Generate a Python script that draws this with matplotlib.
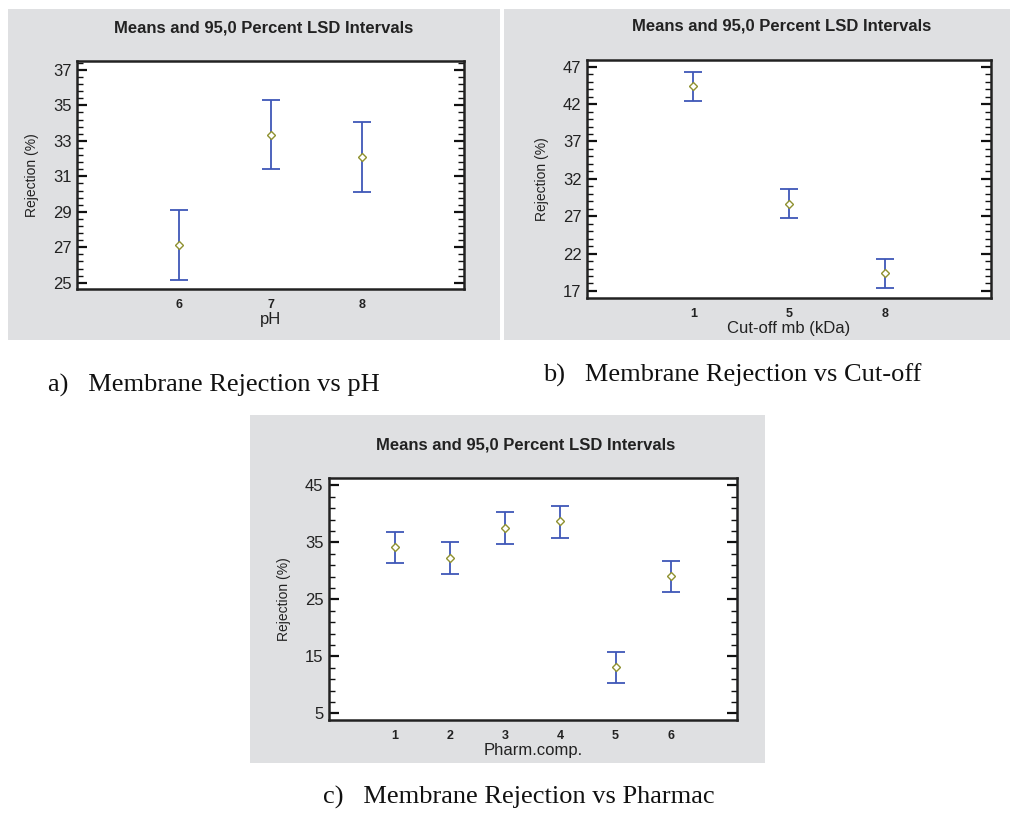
import numpy as np
import matplotlib.pyplot as plt
from matplotlib.patches import Rectangle
from matplotlib.ticker import AutoMinorLocator

# group labels, means and LSD interval limits for each factor
ph_levels = ['6', '7', '8']
ph_means = [27.13, 33.35, 32.09]
ph_low = [25.16, 31.40, 30.12]
ph_high = [29.09, 35.33, 34.07]

cut_levels = ['1', '5', '8']
cut_means = [44.46, 28.63, 19.45]
cut_low = [42.45, 26.71, 17.44]
cut_high = [46.33, 30.64, 21.32]

comp_levels = ['1', '2', '3', '4', '5', '6']
comp_means = [34.15, 32.21, 37.55, 38.67, 13.09, 29.11]
comp_low = [31.45, 29.46, 34.68, 35.79, 10.40, 26.23]
comp_high = [36.85, 35.03, 40.25, 41.36, 15.79, 31.80]

W, H = 1010, 823
BG = '#dfe0e2'
BLUE = '#3f57b8'
TITLE = 'Means and 95,0 Percent LSD Intervals'

plt.rcParams['font.family'] = ['Liberation Sans', 'DejaVu Sans']

fig = plt.figure(figsize=(W / 100, H / 100), dpi=100)
fig.patch.set_facecolor('white')


def px_rect(x0, y0, x1, y1):
    return [x0 / W, 1 - y1 / H, (x1 - x0) / W, (y1 - y0) / H]


def panel(box, axbox, levels, means, low, high, ylim, xlim, yticks, xlabel, title_y):
    gx0, gy0, gx1, gy1 = box
    fig.patches.append(Rectangle((gx0 / W, 1 - gy1 / H), (gx1 - gx0) / W, (gy1 - gy0) / H,
                                 transform=fig.transFigure, facecolor=BG, edgecolor='none',
                                 zorder=-10))
    ax = fig.add_axes(px_rect(*axbox))
    ax.set_facecolor('white')
    pos = list(range(len(levels)))
    err = [[m - l for m, l in zip(means, low)], [h - m for m, h in zip(means, high)]]
    ax.errorbar(pos, means, yerr=err, fmt='none', ecolor=BLUE, elinewidth=1.3,
                capsize=6.8, capthick=1.3)
    ax.plot(pos, means, linestyle='none', marker='D', markersize=4.2,
            markerfacecolor='white', markeredgecolor='#8f9130', markeredgewidth=1.0, zorder=3)
    ax.set_xlim(*xlim)
    ax.set_ylim(*ylim)
    ax.set_xticks(pos)
    ax.set_xticklabels(levels, fontweight='bold', fontsize=9, color='#222222')
    ax.tick_params(axis='x', length=0, pad=7)
    ax.set_yticks(yticks)
    ax.yaxis.set_minor_locator(AutoMinorLocator(5))
    ax.tick_params(axis='y', which='both', direction='in', left=True, right=True,
                   labelsize=12, color='#111111', pad=4, labelcolor='#222222')
    ax.tick_params(axis='y', which='major', length=7, width=1.6)
    ax.tick_params(axis='y', which='minor', length=4, width=1.0)
    for s in ax.spines.values():
        s.set_linewidth(1.8)
        s.set_color('#222222')
    ax.set_xlabel(xlabel, fontsize=12, labelpad=1, color='#222222')
    ax.set_ylabel('Rejection (%)', fontsize=10, labelpad=10, color='#222222')
    ax0, ay0, ax1, ay1 = axbox
    fig.text(((ax0 + ax1) / 2 - 7) / W, 1 - title_y / H, TITLE, ha='center', va='center',
             fontsize=12, fontweight='bold', color='#222222')
    return ax


panel((8, 9, 500, 340), (77, 61, 464, 289), ph_levels, ph_means, ph_low, ph_high,
      (24.65, 37.5), (-1.11, 3.11), np.arange(25, 38, 2), 'pH', 28)
panel((504, 9, 1010, 340), (587, 60, 991, 298), cut_levels, cut_means, cut_low, cut_high,
      (16.06, 47.9), (-1.11, 3.11), np.arange(17, 48, 5), 'Cut-off mb (kDa)', 26)
panel((250, 415, 765, 763), (329, 478, 737, 720), comp_levels, comp_means, comp_low, comp_high,
      (3.83, 46.29), (-1.19, 6.2), np.arange(5, 46, 10), 'Pharm.comp.', 445)

cap = dict(fontsize=19, family=['Liberation Serif', 'DejaVu Serif'], color='#111111', va='center')
fig.text(48 / W, 1 - 385 / H, 'a)   Membrane Rejection vs pH', **cap)
fig.text(543 / W, 1 - 375 / H, 'b)   Membrane Rejection vs Cut-off', **cap)
fig.text(323 / W, 1 - 797 / H, 'c)   Membrane Rejection vs Pharmac', **cap)

fig.savefig('out.png', dpi=100)
